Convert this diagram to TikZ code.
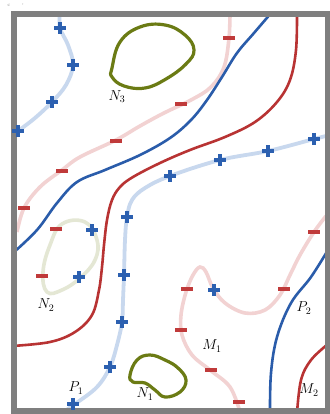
\documentclass[tikz,border=0pt]{standalone}
\definecolor{frameg}{HTML}{7F7F7F}
\definecolor{sblue}{HTML}{2A5CAA}
\definecolor{sred}{HTML}{B83333}
\definecolor{lblue}{HTML}{C8D8EE}
\definecolor{lpink}{HTML}{F2D2D2}
\definecolor{olivec}{HTML}{6B7B14}
\definecolor{khaki}{HTML}{E4E7D4}
\definecolor{mblue}{HTML}{2C60B0}
\definecolor{mred}{HTML}{C03A3A}
\tikzset{
  strongblue/.style={sblue, line width=2.6pt},
  strongred/.style={sred, line width=2.6pt},
  lightblue/.style={lblue, line width=3.8pt},
  lightpink/.style={lpink, line width=3.6pt},
  oliveloop/.style={olivec, line width=3.2pt},
  khakiloop/.style={khaki, line width=3.6pt},
  lab/.style={font=\fontsize{14}{16}\selectfont, inner sep=0pt},
  pmark/.pic={\draw[mblue, line width=3.2pt] (-6,0)--(6,0) (0,-6)--(0,6);},
  mmark/.pic={\draw[mred, line width=3.2pt] (-6,0)--(6,0);}
}
\begin{document}
\begin{tikzpicture}[x=1pt,y=-1pt]
\useasboundingbox (0,0) rectangle (329,414);
\fill[white] (0,0) rectangle (329,414);
% light curves
\draw[lightblue] plot[smooth, tension=0.6] coordinates {(60,12) (60,28) (68,45) (73,65) (66,85) (52,102) (35,118) (18,131) (12,135)};
\draw[lightblue] plot[smooth, tension=0.6] coordinates {(326,136) (314,139) (268,151) (220,160) (170,176) (145,188) (132,200) (127,217) (125,240) (124,275) (123,300) (122,322) (117,345) (110,367) (97,387) (75,404) (62,413)};
\draw[lightpink] plot[smooth, tension=0.6] coordinates {(230,12) (229,38) (224,67) (211,87) (191,100) (164,113) (140,126) (116,140) (80,157) (62,170) (40,187) (24,208) (17,232)};
\draw[lightpink] plot[smooth, tension=0.6] coordinates {(326,216) (314,232) (300,255) (290,275) (280,295) (265,310) (245,313) (225,303) (213,288) (206,272) (200,267) (193,275) (186,292) (181,315) (182,335) (192,355) (210,370) (230,387) (240,412)};
\draw[khakiloop] plot[smooth cycle, tension=0.7] coordinates {(85,222) (62,224) (50,245) (43,272) (47,292) (62,290) (80,278) (95,260) (97,240)};
% olive loops
\draw[oliveloop] plot[smooth cycle, tension=0.7] coordinates {(112,68) (120,42) (140,27) (165,25) (185,35) (194,50) (186,64) (166,79) (145,88) (124,86) (112,77)};
\draw[oliveloop] plot[smooth cycle, tension=0.7] coordinates {(130,375) (137,360) (150,355) (165,360) (178,368) (186,380) (180,392) (165,397) (155,390) (145,383) (133,382)};
% strong curves
\draw[strongblue] plot[smooth, tension=0.6] coordinates {(272,12) (254,33) (237,53) (222,77) (207,100) (191,120) (170,138) (140,155) (105,170) (77,182) (57,203) (37,230) (13,253)};
\draw[strongred] plot[smooth, tension=0.6] coordinates {(297,12) (296,50) (290,80) (277,102) (255,122) (225,137) (190,150) (160,163) (133,177) (120,187) (112,200) (107,220) (104,245) (102,267) (99,290) (92,315) (75,332) (50,342) (12,346)};
\draw[strongblue] plot[smooth, tension=0.6] coordinates {(328,250) (311,277) (291,303) (277,337) (271,373) (270,413)};
\draw[strongred] plot[smooth, tension=0.6] coordinates {(328,344) (311,360) (301,380) (297,413)};
% frame
\draw[frameg, line width=6pt] (13.5,14.5) rectangle (327.5,411);
% markers
\foreach \p in {(60,28),(73,65),(52,102),(18,131),(314,139),(268,151),(220,160),(170,176),(127,217),(124,275),(122,322),(110,367),(73,404),(92,230),(79,277),(214,290)}
  \pic at \p {pmark};
\foreach \p in {(229,38),(181,104),(116,141),(62,171),(24,208),(56,229),(42,276),(314,232),(284,289),(187,289),(181,330),(211,370),(239,402)}
  \pic at \p {mmark};
% labels
\node[lab] (n3) at (117,97) {$N_3$};
\node[lab] (n2) at (46,305) {$N_2$};
\node[lab] (n1) at (145,394) {$N_1$};
\node[lab] (p1) at (76,388) {$P_1$};
\node[lab] (m1) at (212,346) {$M_1$};
\node[lab] (p2) at (304,308) {$P_2$};
\node[lab] (m2) at (309,390) {$M_2$};
\node[font=\fontsize{5}{6}\selectfont, text=gray, inner sep=0pt] (c1) at (9,5) {c};
\node[font=\fontsize{5}{6}\selectfont, text=gray, inner sep=0pt] (c2) at (23,5) {,};
\end{tikzpicture}
\end{document}
